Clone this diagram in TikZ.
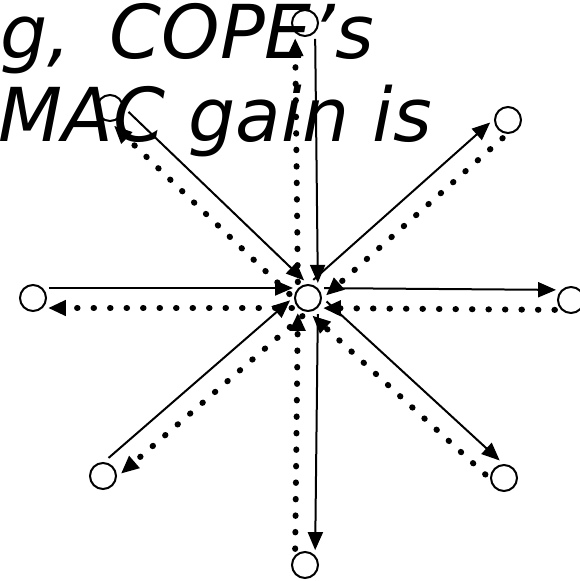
\documentclass[tikz,border=0pt]{standalone}
\usepackage{fontspec}
\setmainfont{DejaVu Sans}
\usetikzlibrary{arrows.meta,calc}

\tikzset{
  station/.style={circle, draw, line width=0.04cm, minimum size=0.52cm, inner sep=0pt},
  solidlane/.style={line width=0.04cm, -{Triangle[length=0.36cm, width=0.3cm]},
    shorten <=0.32cm, shorten >=0.3cm},
  dotlane/.style={line width=0.12cm, line cap=round, dash pattern=on 0.01cm off 0.32cm,
    -{Triangle[length=0.36cm, width=0.3cm, line cap=butt]}, shorten <=0.32cm, shorten >=0.3cm},
  headline/.style={anchor=base west, inner sep=0pt, font=\fontsize{42.3}{48}\selectfont\itshape}
}

\begin{document}
\begin{tikzpicture}[x=0.02cm, y=-0.02cm]
      \useasboundingbox (0,0) rectangle (580,581);
      % Stations: relay in the middle, eight neighbours round it
      \node[station] (C) at (308,298) {};
      \foreach \name/\x/\y in {N/305/23, NE/508/120, E/571/300, SE/504/478,
                               S/305/565, SW/103/476, W/33/298, NW/110/108}{
        \node[station] (\name) at (\x,\y) {};
      }
      % Solid flows
      \foreach \a/\b in {N/C, NW/C, W/C, SW/C, C/NE, C/E, C/SE, C/S}{
        \draw[solidlane] ($(\a)!0.2cm!90:(\b)$) -- ($(\b)!0.2cm!-90:(\a)$);
      }
      % Dotted flows (the other way)
      \foreach \a/\b in {C/N, C/NW, C/W, C/SW, NE/C, E/C, SE/C, S/C}{
        \draw[dotlane] ($(\a)!0.2cm!90:(\b)$) -- ($(\b)!0.2cm!-90:(\a)$);
      }
      % Slide text
      \node[headline] (line1) at (0,59) {g,\kern0.3cm{} COPE’s};
      \node[headline] (line2) at (-2,141) {MAC gain is};
\end{tikzpicture}
\end{document}
